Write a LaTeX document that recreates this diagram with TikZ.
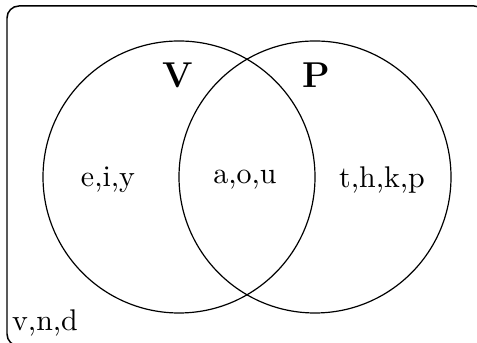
\documentclass[tikz,border=0pt]{standalone}
\usepackage{tikz}
\usetikzlibrary{calc}
\tikzset{setname/.style={font=\large\bfseries}, member/.style={inner sep=1pt}}

\begin{document}
\begin{tikzpicture}[x=0.334pt, y=-0.334pt]
		%%%%% START %%%%%
		\useasboundingbox (0, 0) rectangle (477, 343);
		\draw[rounded corners, line width=0.5pt] (7, 6) rectangle (486, 346);
		
		\draw (179, 177) circle (136);
		\draw (315, 177) circle (136);
		
		\node[setname] (V) at (178, 75) {V};
		\node[setname] (P) at (316, 75) {P};
		
		\node[member] (vowels) at (108, 180) {e,i,y};
		\node[member] (both) at (245, 180) {a,o,u};
		\node[member] (cons) at (382, 180) {t,h,k,p};
		\node[member] (rest) at (45, 323) {v,n,d};
		%%%%% END %%%%%
	\end{tikzpicture}
\end{document}
